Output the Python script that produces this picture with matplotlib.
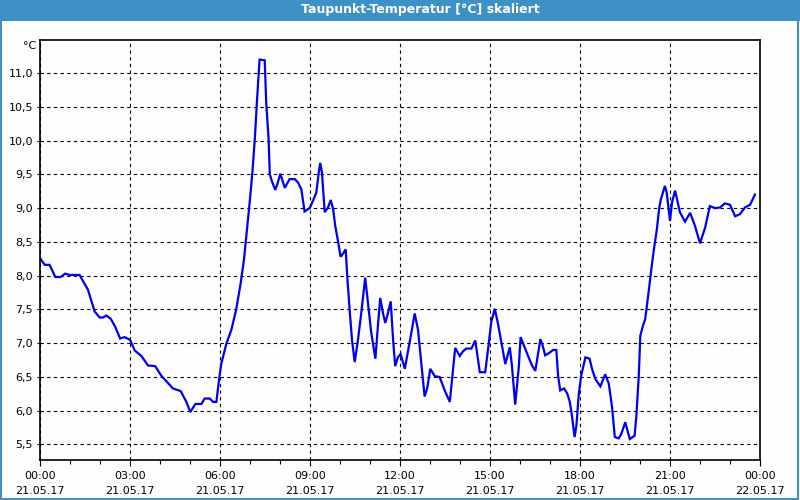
import matplotlib
matplotlib.use("Agg")
import matplotlib.pyplot as plt
from matplotlib.patches import Rectangle
from matplotlib.ticker import MultipleLocator

# dew point readings, 21.05.17 (hours since midnight, °C)
hours = [
    0.00, 0.16, 0.32, 0.51, 0.69, 0.84, 0.99, 1.32, 1.60, 1.82,
    1.99, 2.10, 2.21, 2.36, 2.51, 2.67, 2.82, 3.00, 3.16, 3.38,
    3.60, 3.84, 4.04, 4.43, 4.69, 4.88, 5.01, 5.18, 5.38, 5.49,
    5.66, 5.77, 5.88, 5.97, 6.04, 6.21, 6.38, 6.54, 6.69, 6.80,
    6.91, 6.99, 7.08, 7.16, 7.23, 7.32, 7.49, 7.54, 7.62, 7.66,
    7.73, 7.84, 7.93, 8.01, 8.16, 8.32, 8.49, 8.60, 8.71, 8.82,
    8.99, 9.10, 9.21, 9.29, 9.34, 9.40, 9.49, 9.60, 9.69, 9.77,
    9.84, 9.93, 10.02, 10.12, 10.19, 10.24, 10.32, 10.40, 10.49, 10.60,
    10.71, 10.84, 10.93, 11.04, 11.18, 11.27, 11.34, 11.43, 11.51, 11.60,
    11.69, 11.77, 11.84, 11.93, 12.02, 12.16, 12.32, 12.49, 12.60, 12.71,
    12.82, 12.91, 13.01, 13.16, 13.32, 13.49, 13.66, 13.77, 13.84, 13.99,
    14.10, 14.21, 14.38, 14.51, 14.66, 14.84, 14.96, 15.04, 15.16, 15.27,
    15.40, 15.51, 15.66, 15.73, 15.84, 15.96, 16.02, 16.10, 16.27, 16.40,
    16.51, 16.60, 16.68, 16.74, 16.84, 16.99, 17.10, 17.21, 17.27, 17.34,
    17.47, 17.58, 17.66, 17.73, 17.82, 17.88, 17.96, 18.04, 18.18, 18.32,
    18.40, 18.51, 18.68, 18.84, 18.96, 19.07, 19.16, 19.29, 19.38, 19.51,
    19.58, 19.66, 19.82, 19.88, 19.96, 20.01, 20.10, 20.17, 20.22, 20.31,
    20.39, 20.47, 20.56, 20.64, 20.69, 20.83, 20.89, 21.00, 21.07, 21.17,
    21.22, 21.33, 21.50, 21.67, 21.83, 22.00, 22.17, 22.33, 22.50, 22.67,
    22.83, 23.00, 23.17, 23.33, 23.50, 23.67, 23.83,
]
dew_point = [
    8.26, 8.16, 8.16, 7.98, 7.98, 8.03, 8.01, 8.01, 7.79, 7.47,
    7.38, 7.38, 7.41, 7.36, 7.24, 7.07, 7.09, 7.05, 6.89, 6.81,
    6.67, 6.66, 6.52, 6.33, 6.29, 6.13, 5.98, 6.10, 6.10, 6.18,
    6.18, 6.13, 6.13, 6.47, 6.69, 6.99, 7.20, 7.50, 7.89, 8.24,
    8.74, 9.09, 9.53, 10.02, 10.57, 11.20, 11.19, 10.57, 10.02, 9.50,
    9.40, 9.27, 9.38, 9.51, 9.30, 9.43, 9.43, 9.38, 9.28, 8.95,
    9.00, 9.11, 9.23, 9.52, 9.67, 9.52, 8.94, 9.01, 9.12, 8.99,
    8.74, 8.52, 8.28, 8.34, 8.39, 8.00, 7.50, 7.05, 6.72, 7.05,
    7.45, 7.97, 7.60, 7.16, 6.77, 7.29, 7.67, 7.45, 7.30, 7.45,
    7.62, 7.05, 6.66, 6.79, 6.84, 6.62, 7.01, 7.44, 7.20, 6.71,
    6.21, 6.34, 6.62, 6.51, 6.50, 6.30, 6.13, 6.62, 6.93, 6.81,
    6.88, 6.92, 6.92, 7.04, 6.57, 6.57, 7.00, 7.31, 7.51, 7.28,
    6.96, 6.69, 6.94, 6.67, 6.09, 6.65, 7.09, 7.00, 6.81, 6.67,
    6.59, 6.84, 7.06, 6.99, 6.82, 6.86, 6.90, 6.90, 6.52, 6.30,
    6.33, 6.25, 6.13, 5.93, 5.61, 5.78, 6.25, 6.52, 6.79, 6.77,
    6.62, 6.47, 6.36, 6.54, 6.40, 6.05, 5.61, 5.59, 5.66, 5.83,
    5.71, 5.58, 5.63, 5.93, 6.52, 7.11, 7.26, 7.35, 7.52, 7.84,
    8.14, 8.41, 8.68, 9.00, 9.12, 9.33, 9.23, 8.81, 9.09, 9.26,
    9.16, 8.94, 8.80, 8.93, 8.74, 8.48, 8.71, 9.03, 9.00, 9.01,
    9.07, 9.05, 8.88, 8.91, 9.01, 9.05, 9.20,
]

x_ticks = [0, 3, 6, 9, 12, 15, 18, 21, 24]
x_labels = ["00:00\n21.05.17", "03:00\n21.05.17", "06:00\n21.05.17",
            "09:00\n21.05.17", "12:00\n21.05.17", "15:00\n21.05.17",
            "18:00\n21.05.17", "21:00\n21.05.17", "00:00\n22.05.17"]
y_ticks = [5.5, 6.0, 6.5, 7.0, 7.5, 8.0, 8.5, 9.0, 9.5, 10.0, 10.5, 11.0]
y_labels = ["5,5", "6,0", "6,5", "7,0", "7,5", "8,0",
            "8,5", "9,0", "9,5", "10,0", "10,5", "11,0"]

frame_blue = "#3d91c4"

fig = plt.figure(figsize=(8, 5), dpi=100, facecolor="#fcfdfc")
ax = fig.add_axes([0.05, 0.08, 0.90, 0.84])
ax.set_facecolor("#fcfdfc")

ax.plot(hours, dew_point, color="#0000f0", lw=1.6, solid_joinstyle="miter")

ax.set_xlim(0, 24)
ax.set_ylim(5.27, 11.49)
ax.set_xticks(x_ticks)
ax.set_xticklabels(x_labels, fontsize=8, linespacing=1.55)
ax.xaxis.set_minor_locator(MultipleLocator(1))
ax.set_yticks(y_ticks)
ax.set_yticklabels(y_labels, fontsize=8)
ax.tick_params(axis="x", which="major", length=4, width=0.8, pad=4)
ax.tick_params(axis="x", which="minor", length=3, width=0.8)
ax.tick_params(axis="y", length=2, width=0.8, pad=3)
ax.grid(True, which="major", color="black", lw=0.8, linestyle=(0, (3, 3)))
for sp in ax.spines.values():
    sp.set_linewidth(1.2)
    sp.set_color("black")

fig.text(36 / 800, 1 - 46 / 500, "°C", ha="right", va="center", fontsize=8)

# title bar and window frame
fig.patches.append(Rectangle((0, 1 - 21 / 500), 1, 21 / 500, transform=fig.transFigure,
                             facecolor=frame_blue, edgecolor="none", zorder=0))
fig.patches.append(Rectangle((0.001, 0.002), 0.997, 0.996, transform=fig.transFigure,
                             facecolor="none", edgecolor=frame_blue, lw=1.5, zorder=1))
fig.text(420 / 800, 1 - 10 / 500, "Taupunkt-Temperatur [°C] skaliert", ha="center",
         va="center", color="white", fontsize=9, fontweight="bold")

fig.savefig("out.png", dpi=100, facecolor=fig.get_facecolor())
